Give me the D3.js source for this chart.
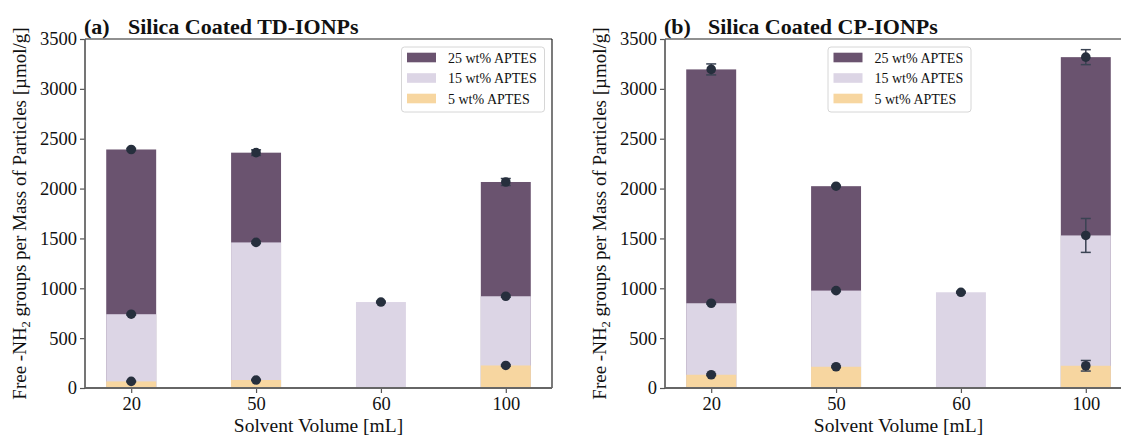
<!DOCTYPE html>
<html><head><meta charset="utf-8">
<script src="https://cdn.jsdelivr.net/npm/d3@7"></script>
<style>body{margin:0;background:#fff}svg{display:block}</style>
</head><body><svg id="c" width="1121" height="437"></svg>
<script>
// ---- data ----
const categories = ["20", "50", "60", "100"];
const seriesNames = ["25 wt% APTES", "15 wt% APTES", "5 wt% APTES"];
const yTicks = [0, 500, 1000, 1500, 2000, 2500, 3000, 3500];

// (a) Silica Coated TD-IONPs
const td25 = [2392, 2360, null, 2066];
const td25Err = [10, 28, null, 35];
const td15 = [740, 1460, 862, 920];
const td15Err = [8, 10, 8, 10];
const td5 = [66, 80, null, 226];
const td5Err = [5, 5, null, 8];

// (b) Silica Coated CP-IONPs
const cp25 = [3195, 2024, null, 3318];
const cp25Err = [55, 8, null, 75];
const cp15 = [850, 977, 960, 1530];
const cp15Err = [8, 10, 8, 170];
const cp5 = [133, 213, null, 223];
const cp5Err = [8, 8, null, 53];

// ---- drawing ----
const colors = ["#6a536f", "#dcd5e5", "#f7d6a0"];
const dotColor = "#262f3d", errColor = "#3a4353";
const font = "'Liberation Serif','Times New Roman',serif";
const svg = d3.select("#c");

const panels = [
  {left: 85, tag: "(a)", title: "Silica Coated TD-IONPs",
   series: [[td25, td25Err], [td15, td15Err], [td5, td5Err]], legendX: 401.5},
  {left: 665, tag: "(b)", title: "Silica Coated CP-IONPs",
   series: [[cp25, cp25Err], [cp15, cp15Err], [cp5, cp5Err]], legendX: 828}
];
const PW = 467, PT = 39, PB = 388;

panels.forEach(p => {
  const g = svg.append("g");
  const x = d3.scaleLinear().domain([-0.37, categories.length - 1 + 0.37]).range([p.left, p.left + PW]);
  const y = d3.scaleLinear().domain([0, 3500]).range([PB, PT]);
  const bw = x(0.4) - x(0);

  // bars (drawn from zero, overlapping)
  p.series.forEach((s, si) => {
    const vals = s[0];
    g.selectAll(null).data(vals.map((v, i) => ({v, i})).filter(d => d.v != null))
      .enter().append("rect")
      .attr("x", d => x(d.i) - bw / 2).attr("width", bw)
      .attr("y", d => y(d.v)).attr("height", d => y(0) - y(d.v))
      .attr("fill", colors[si]);
  });
  // error bars + dots
  p.series.forEach((s) => {
    const vals = s[0], errs = s[1];
    const pts = vals.map((v, i) => ({v, e: errs[i], i})).filter(d => d.v != null);
    const eg = g.append("g").attr("stroke", errColor).attr("stroke-width", 1.5);
    pts.forEach(d => {
      const cx = x(d.i);
      eg.append("line").attr("x1", cx).attr("x2", cx).attr("y1", y(d.v - d.e)).attr("y2", y(d.v + d.e));
      [d.v - d.e, d.v + d.e].forEach(t => eg.append("line").attr("x1", cx - 5).attr("x2", cx + 5).attr("y1", y(t)).attr("y2", y(t)));
    });
    g.selectAll(null).data(pts).enter().append("circle")
      .attr("cx", d => x(d.i)).attr("cy", d => y(d.v)).attr("r", 4.8).attr("fill", dotColor);
  });

  // axes
  const yAxis = d3.axisLeft(y).tickValues(yTicks).tickSize(5).tickPadding(3).tickFormat(d3.format("d"));
  const ya = g.append("g").attr("transform", `translate(${p.left},0)`).call(yAxis);
  const xAxis = d3.axisBottom(x).tickValues(d3.range(categories.length)).tickSize(5).tickPadding(4).tickFormat(i => categories[i]);
  const xa = g.append("g").attr("transform", `translate(0,${PB})`).call(xAxis);
  [ya, xa].forEach(a => {
    a.select(".domain").remove();
    a.selectAll(".tick line").attr("stroke", "#555").attr("stroke-width", 1.2);
    a.selectAll(".tick text").attr("font-family", font).attr("font-size", 18.5).attr("fill", "#111");
  });
  // spines
  g.append("line").attr("x1", p.left).attr("x2", p.left + PW).attr("y1", PT).attr("y2", PT).attr("stroke", "#222").attr("stroke-width", 1.2);
  g.append("line").attr("x1", p.left + PW).attr("x2", p.left + PW).attr("y1", PT).attr("y2", PB).attr("stroke", "#222").attr("stroke-width", 1.2);
  g.append("line").attr("x1", p.left).attr("x2", p.left).attr("y1", PT).attr("y2", PB).attr("stroke", "#666").attr("stroke-width", 1.8);
  g.append("line").attr("x1", p.left).attr("x2", p.left + PW).attr("y1", PB).attr("y2", PB).attr("stroke", "#666").attr("stroke-width", 1.8);

  // axis labels
  g.append("text").attr("x", p.left + PW / 2).attr("y", 432).attr("text-anchor", "middle")
    .attr("font-family", font).attr("font-size", 19.5).attr("fill", "#111").text("Solvent Volume [mL]");
  const yl = g.append("text").attr("transform", `translate(${p.left - 59},${(PT + PB) / 2}) rotate(-90)`)
    .attr("text-anchor", "middle").attr("font-family", font).attr("font-size", 19).attr("fill", "#111");
  yl.append("tspan").text("Free -NH");
  yl.append("tspan").attr("font-size", 12.5).attr("dy", 4).text("2");
  yl.append("tspan").attr("dy", -4).text(" groups per Mass of Particles [µmol/g]");

  // title
  g.append("text").attr("x", p.left - 1).attr("y", 34).attr("font-family", font).attr("font-weight", "bold")
    .attr("font-size", 22).attr("fill", "#111").text(p.tag);
  g.append("text").attr("x", p.left + 43).attr("y", 34).attr("font-family", font).attr("font-weight", "bold")
    .attr("font-size", 22).attr("fill", "#111").text(p.title);

  // legend
  const lg = g.append("g").attr("transform", `translate(${p.legendX},47)`);
  lg.append("rect").attr("width", 143).attr("height", 65).attr("rx", 3).attr("fill", "#fff")
    .attr("fill-opacity", 0.85).attr("stroke", "#d6d6d6").attr("stroke-width", 1);
  seriesNames.forEach((n, i) => {
    const cy = 10.5 + i * 20.5;
    lg.append("rect").attr("x", 5.5).attr("y", cy - 4.8).attr("width", 29).attr("height", 9.6).attr("fill", colors[i]);
    lg.append("text").attr("x", 46.5).attr("y", cy + 5).attr("font-family", font).attr("font-size", 14)
      .attr("fill", "#111").text(n);
  });
});
</script></body></html>
